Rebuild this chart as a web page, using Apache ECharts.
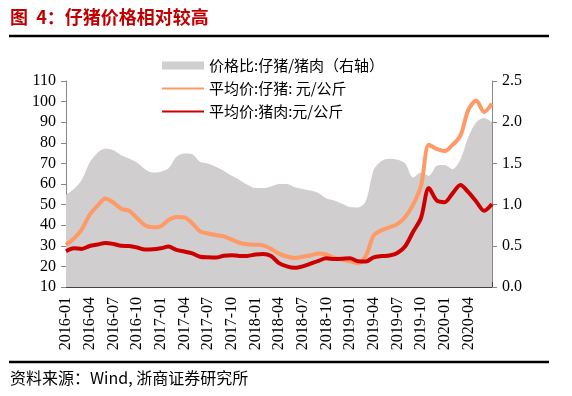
<!DOCTYPE html>
<html>
<head>
<meta charset="utf-8">
<script src="https://cdn.jsdelivr.net/npm/echarts@6/dist/echarts.min.js"></script>
<style>
  html, body { margin: 0; padding: 0; background: #fff; }
  #main { width: 572px; height: 396px; }
</style>
</head>
<body>
<div id="main"></div>
<script>
// months 2016-01 .. 2020-07
var months = [];
for (var y = 2016; y <= 2020; y++) {
  for (var m = 1; m <= 12; m++) {
    if (y === 2020 && m > 7) break;
    months.push(y + '-' + (m < 10 ? '0' + m : m));
  }
}

// 价格比: 仔猪/猪肉 (右轴)
var ratio = [1.12, 1.19, 1.30, 1.51, 1.63, 1.68, 1.66, 1.60, 1.56, 1.51, 1.43, 1.39,
  1.40, 1.44, 1.58, 1.62, 1.61, 1.52, 1.50, 1.46, 1.41, 1.35, 1.30, 1.24,
  1.20, 1.20, 1.22, 1.25, 1.25, 1.21, 1.19, 1.17, 1.14, 1.075, 1.05, 1.01,
  0.97, 0.965, 1.04, 1.42, 1.53, 1.555, 1.545, 1.50, 1.33, 1.39, 1.35, 1.47,
  1.48, 1.43, 1.55, 1.82, 2.00, 2.05, 2.00];

// 平均价: 仔猪 元/公斤
var piglet = [30.5, 33.5, 38, 45, 49.5, 53, 51, 48, 47, 43.5, 40, 39,
  39.5, 42.5, 44, 43.8, 41, 37, 36, 35.2, 34.6, 33, 31.5, 30.7,
  30.5, 30.2, 28.5, 26.2, 24.8, 24.1, 24.7, 25.3, 26.3, 25.8, 24.2, 23.2,
  22.5, 21.5, 25, 35, 37.5, 39, 40.5, 44, 50, 59, 79, 77,
  76, 79, 83.5, 96, 100.5, 95, 99];

// 平均价: 猪肉 元/公斤
var pork = [27.4, 28.8, 28.5, 29.9, 30.6, 31.4, 30.9, 30, 29.9, 29.2, 28.2, 28.3,
  28.8, 29.6, 28, 27.2, 26.3, 24.7, 24.4, 24.3, 25.2, 25.4, 25.1, 25.1,
  25.8, 26, 25, 21.6, 20, 19.3, 20, 21.3, 22.7, 23.9, 23.6, 23.7,
  23.9, 22.5, 22.4, 24.4, 25, 25.3, 26.5, 29.8, 36.8, 43.5, 58, 52,
  51.2, 55.5, 59.5, 56, 51.5, 47, 50.3];

var leftTicks = { min: 10, max: 110, interval: 10 };
var rightTicks = { min: 0, max: 2.5, interval: 0.5 };

var chart = echarts.init(document.getElementById('main'));
var numFont = 'Liberation Serif';
var cjkFont = 'Noto Sans CJK SC';

chart.setOption({
  animation: false,
  grid: { left: 66, right: 80, top: 81, bottom: 109 },
  legend: {
    orient: 'vertical',
    left: 156,
    top: 53,
    itemWidth: 42,
    itemHeight: 8,
    itemGap: 8,
    textStyle: { fontFamily: cjkFont, fontSize: 15, color: '#000' },
    data: [
      { name: '价格比:仔猪/猪肉（右轴）', icon: 'rect' },
      { name: '平均价:仔猪: 元/公斤', itemStyle: { opacity: 0 } },
      { name: '平均价:猪肉:元/公斤', itemStyle: { opacity: 0 } }
    ]
  },
  xAxis: {
    type: 'category',
    data: months,
    boundaryGap: false,
    axisLine: { lineStyle: { color: '#444', width: 1 } },
    axisTick: {
      inside: true, length: 5,
      interval: function (i) { return i % 3 === 0; },
      lineStyle: { color: '#444' }
    },
    axisLabel: {
      rotate: 90,
      margin: 10,
      fontFamily: numFont,
      fontSize: 16,
      color: '#000',
      interval: function (i) { return i % 3 === 0 && i < 54; }
    }
  },
  yAxis: [
    {
      type: 'value',
      min: leftTicks.min, max: leftTicks.max, interval: leftTicks.interval,
      axisLine: { show: true, lineStyle: { color: '#888' } },
      axisTick: { show: true, length: 5, lineStyle: { color: '#888' } },
      splitLine: { show: false },
      axisLabel: { margin: 10, fontFamily: numFont, fontSize: 16, color: '#000' }
    },
    {
      type: 'value',
      min: rightTicks.min, max: rightTicks.max, interval: rightTicks.interval,
      axisLine: { show: true, lineStyle: { color: '#888' } },
      axisTick: { show: true, length: 5, lineStyle: { color: '#888' } },
      splitLine: { show: false },
      axisLabel: {
        margin: 10, fontFamily: numFont, fontSize: 16, color: '#000',
        formatter: function (v) { return v.toFixed(1); }
      }
    }
  ],
  series: [
    {
      name: '价格比:仔猪/猪肉（右轴）',
      type: 'line',
      yAxisIndex: 1,
      data: ratio,
      smooth: 0.3,
      symbol: 'none',
      color: '#d0cece',
      lineStyle: { width: 0, color: '#d0cece' },
      areaStyle: { color: '#d0cece', opacity: 1 }
    },
    {
      name: '平均价:仔猪: 元/公斤',
      type: 'line',
      data: piglet,
      smooth: 0.3,
      symbol: 'none',
      color: '#ff9966',
      lineStyle: { width: 4, color: '#ff9966' }
    },
    {
      name: '平均价:猪肉:元/公斤',
      type: 'line',
      data: pork,
      smooth: 0.3,
      symbol: 'none',
      color: '#cc0000',
      lineStyle: { width: 4, color: '#cc0000' }
    }
  ],
  graphic: [
    {
      type: 'text', left: 10, top: 8,
      style: { text: '图  4：仔猪价格相对较高', fill: '#c00000', font: 'bold 18px "Noto Sans CJK SC"' }
    },
    {
      type: 'line', shape: { x1: 9, y1: 36, x2: 549, y2: 36 },
      style: { stroke: '#000', lineWidth: 2.5 }
    },
    {
      type: 'line', shape: { x1: 9, y1: 362, x2: 549, y2: 362 },
      style: { stroke: '#000', lineWidth: 2.5 }
    },
    {
      type: 'text', left: 10, top: 370,
      style: { text: '资料来源：Wind, 浙商证券研究所', fill: '#000', font: '16px "Noto Sans CJK SC"' }
    }
  ]
});
</script>
</body>
</html>
